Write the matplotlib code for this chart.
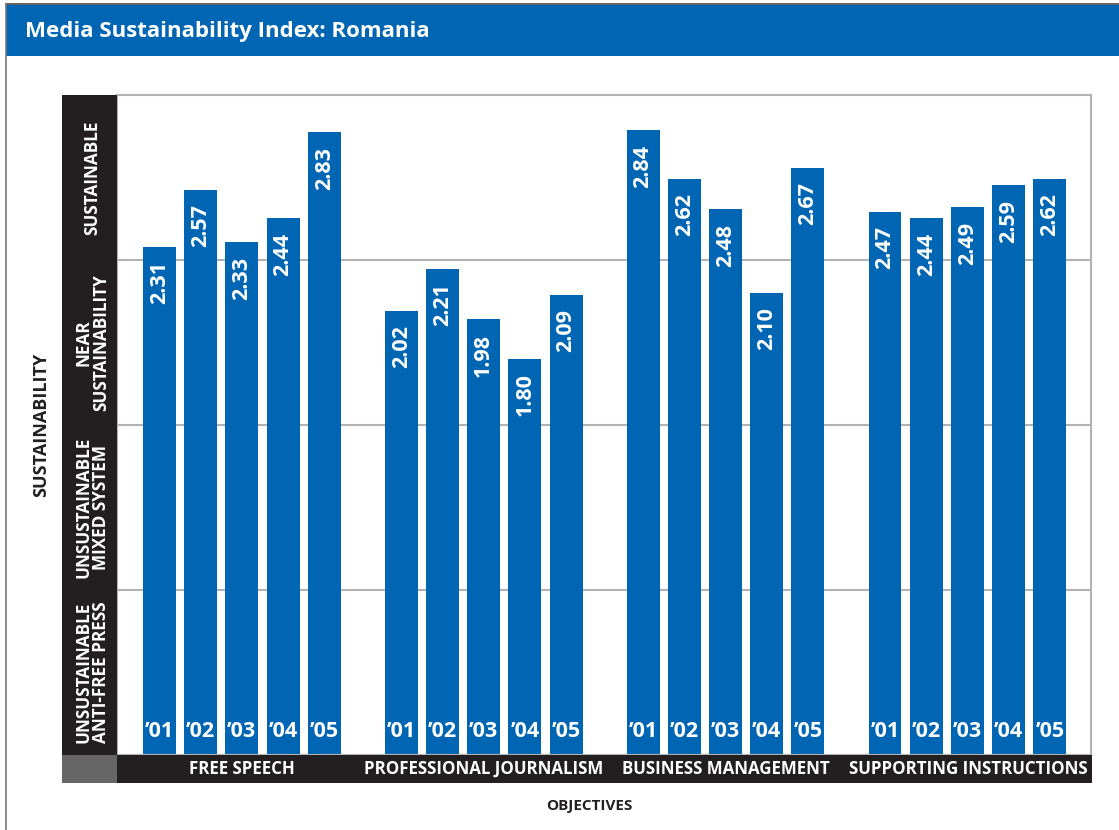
import matplotlib.pyplot as plt
from matplotlib.patches import Rectangle

objectives = ['FREE SPEECH', 'PROFESSIONAL JOURNALISM', 'BUSINESS MANAGEMENT',
              'SUPPORTING INSTRUCTIONS']
years = ["\u201901", "\u201902", "\u201903", "\u201904", "\u201905"]
free_speech = [2.31, 2.57, 2.33, 2.44, 2.83]
prof_journalism = [2.02, 2.21, 1.98, 1.80, 2.09]
business_mgmt = [2.84, 2.62, 2.48, 2.10, 2.67]
supporting = [2.47, 2.44, 2.49, 2.59, 2.62]
bands = ['UNSUSTAINABLE\nANTI-FREE PRESS', 'UNSUSTAINABLE\nMIXED SYSTEM',
         'NEAR\nSUSTAINABILITY', 'SUSTAINABLE']

series = [free_speech, prof_journalism, business_mgmt, supporting]

BLUE = '#0066b3'
DARK = '#231f20'
GRID = '#b3b3b3'
plt.rcParams['font.family'] = ['Open Sans', 'DejaVu Sans']

W, H = 1119, 830
fig = plt.figure(figsize=(W / 100, H / 100), dpi=100)


def px_axes(x0, y0, x1, y1, **kw):
    # axes placed by pixel box (top-left origin)
    return fig.add_axes([x0 / W, 1 - y1 / H, (x1 - x0) / W, (y1 - y0) / H], **kw)


# header bar
fig.patches.append(Rectangle((6 / W, 1 - 56 / H), 1, 51 / H, transform=fig.transFigure,
                             facecolor=BLUE, edgecolor='none'))
fig.add_artist(plt.Line2D([6 / W, 1], [1 - 4.5 / H, 1 - 4.5 / H], color='#444444', lw=1.2))
fig.add_artist(plt.Line2D([6 / W, 6 / W], [0, 1 - 4.5 / H], color='#777777', lw=1.2))
fig.text(25 / W, 1 - 31 / H, 'Media Sustainability Index: Romania', color='white',
         fontsize=16, fontweight='bold', va='center', ha='left')

group_gap = 5.87
width = 0.8
ax = px_axes(117, 95, 1091, 755)
for g, vals in enumerate(series):
    xs = [g * group_gap + i for i in range(len(vals))]
    ax.bar(xs, vals, width=width, color=BLUE, zorder=2)
    for x, v, yr in zip(xs, vals, years):
        ax.text(x, v - 0.065, f'{v:.2f}', rotation=90, ha='center', va='top',
                color='white', fontsize=15.5, fontweight='bold', zorder=3)
        ax.text(x, 0.105, yr, ha='center', va='center', color='white',
                fontsize=15.5, fontweight='bold', zorder=3)

ax.set_xlim(-1.03, 3 * group_gap + 4 + 1.0)
ax.set_ylim(0, 3)
for yv in [0.75, 1.5, 2.25]:
    ax.axhline(yv, color=GRID, lw=1.5, zorder=1)
ax.set_xticks([])
ax.set_yticks([])
for s in ax.spines.values():
    s.set_color(GRID)
    s.set_linewidth(1.5)

# left band with sustainability levels
lb = px_axes(62, 95, 117, 755)
lb.set_facecolor(DARK)
lb.set_xlim(0, 1)
lb.set_ylim(0, 3)
for k, lab in enumerate(bands):
    lb.text(0.55, 0.75 * k + 0.375, lab, rotation=90, ha='center', va='center',
            color='white', fontsize=12.3, fontweight='bold', linespacing=0.95,
            multialignment='center')
lb.set_xticks([])
lb.set_yticks([])
for s in lb.spines.values():
    s.set_visible(False)

# bottom band with objective names
bb = px_axes(117, 755, 1092, 783)
bb.set_facecolor(DARK)
bb.set_xlim(ax.get_xlim())
bb.set_ylim(0, 1)
for g, name in enumerate(objectives):
    bb.text(g * group_gap + 2, 0.5, name, ha='center', va='center', color='white',
            fontsize=12.2, fontweight='bold')
bb.set_xticks([])
bb.set_yticks([])
for s in bb.spines.values():
    s.set_visible(False)

corner = px_axes(62, 755, 117, 783)
corner.set_facecolor('#666666')
corner.set_xticks([])
corner.set_yticks([])
for s in corner.spines.values():
    s.set_visible(False)

fig.text(41 / W, 1 - 425 / H, 'SUSTAINABILITY', rotation=90, ha='center', va='center',
         fontsize=13, fontweight='bold', color=DARK)
fig.text(589 / W, 1 - 806 / H, 'OBJECTIVES', ha='center', va='center',
         fontsize=11, fontweight='bold', color=DARK)

fig.savefig('out.png', dpi=100)
